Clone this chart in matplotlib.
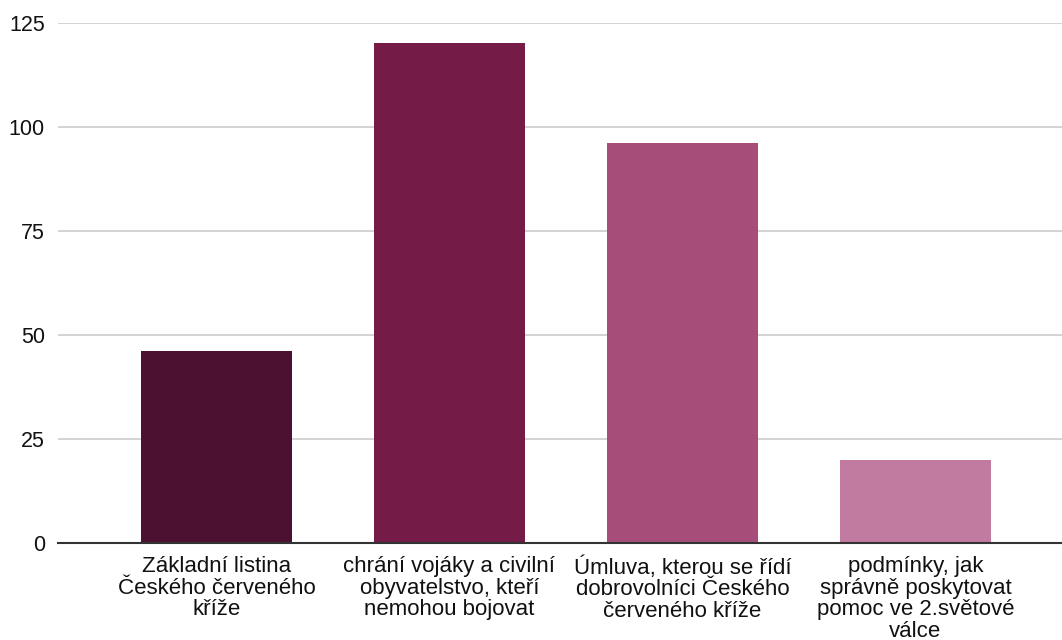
import matplotlib.pyplot as plt

# data
labels = [
    "Základní listina\nČeského červeného\nkříže",
    "chrání vojáky a civilní\nobyvatelstvo, kteří\nnemohou bojovat",
    "Úmluva, kterou se řídí\ndobrovolníci Českého\nčerveného kříže",
    "podmínky, jak\nsprávně poskytovat\npomoc ve 2.světové\nválce",
]
values = [46, 120, 96, 20]
colors = ["#4c1130", "#741b47", "#a64d79", "#c27ba0"]
yticks = [0, 25, 50, 75, 100, 125]

plt.rcParams['font.family'] = ['Liberation Sans', 'DejaVu Sans']

fig = plt.figure(figsize=(10.62, 6.40), dpi=100)
ax = fig.add_axes([0.0546, 0.1516, 0.9454, 0.8132])

x = list(range(len(values)))
ax.bar(x, values, width=0.647, color=colors, zorder=3)

ax.set_xlim(-0.68, 3.629)
ax.set_ylim(0, 125)
ax.set_yticks(yticks)
ax.set_xticks(x)
ax.set_xticklabels(labels, fontsize=16, linespacing=1.03, color="#111111")
ax.tick_params(axis='y', length=0, pad=9.5, labelsize=15.5, labelcolor="#111111")
ax.tick_params(axis='x', length=0, pad=9.5)

ax.grid(axis='y', color="#cccccc", linewidth=1.2, zorder=0)
for s in ['top', 'right', 'left']:
    ax.spines[s].set_visible(False)
ax.spines['bottom'].set_color("#333333")
ax.spines['bottom'].set_linewidth(1.5)
ax.spines['bottom'].set_zorder(4)

fig.savefig("out.png", dpi=100)
